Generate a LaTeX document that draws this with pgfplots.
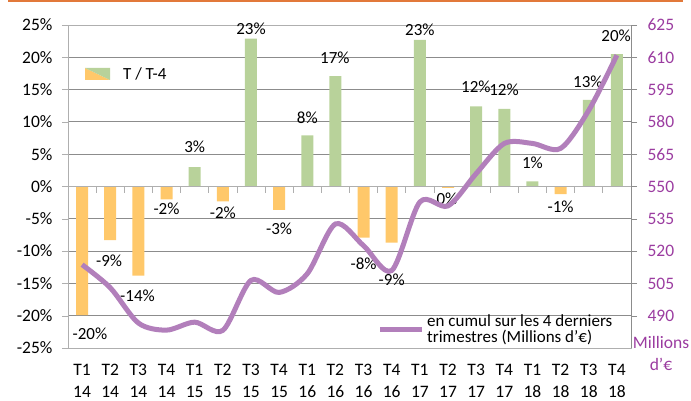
\documentclass[border=0pt]{standalone}
\usepackage{fontspec}
\setmainfont{Carlito}
\usepackage{pgfplots}
\usepackage{pgfplotstable}
\pgfplotsset{compat=1.18}
\definecolor{barG}{RGB}{184,210,154}
\definecolor{barO}{RGB}{255,200,106}
\definecolor{lineP}{RGB}{178,127,187}
\definecolor{txtP}{RGB}{155,60,160}
\definecolor{gridC}{RGB}{140,140,140}
\definecolor{axC}{RGB}{175,175,175}
\definecolor{topO}{RGB}{226,121,58}

\pgfplotstableread{
x y
4 3.0
6 22.9
8 7.9
9 17.1
12 22.7
14 12.4
15 12.0
16 0.8
18 13.4
19 20.5
}\tabpos
\pgfplotstableread{
x y
0 -19.9
1 -8.3
2 -13.8
3 -2.0
5 -2.3
7 -3.6
10 -7.9
11 -8.7
13 -0.2
17 -1.2
}\tabneg
\pgfplotstableread{
x y lab
0.28 -22.8 -20
0.96 -11.5 -9
1.97 -16.9 -14
3 -3.4 -2
4 6.1 3
5 -4.0 -2
6 24.4 23
7 -6.5 -3
8 10.7 8
8.98 19.9 17
10 -11.9 -8
11 -14.4 -9
12 24.2 23
12.96 -1.9 0
13.99 15.4 12
14.99 14.9 12
16 3.7 1
17 -3.2 -1
17.97 16.2 13
18.97 23.4 20
}\tablabs
\pgfplotstableread{
x y
0 513.7
1 503
2 486.6
3 483.3
4 487
5 483.2
6 506.4
7 500.8
8 509.5
9 532.6
10 522.5
11 511
12 542.8
13 541
14 556
15 570
16 570
17 567.7
18 585.4
19 611
}\tabcumul

\pgfplotsset{every tick label/.append style={font=\fontsize{17.5}{21}\selectfont}}

\begin{document}
\begin{tikzpicture}
\useasboundingbox (0,0) rectangle (691pt,401pt);
\draw[topO, line width=1.5pt] (8pt,400pt) -- (683pt,400pt);
\begin{axis}[
  at={(68pt,53pt)}, anchor=south west,
  width=563pt, height=323pt, scale only axis,
  xmin=-0.5, xmax=19.5, ymin=-25, ymax=25,
  ytick={-25,-20,-15,-10,-5,0,5,10,15,20,25},
  yticklabels={-25\%,-20\%,-15\%,-10\%,-5\%,0\%,5\%,10\%,15\%,20\%,25\%},
  ytick pos=left,
  xtick={0,...,19},
  xticklabels={T1\\14,T2\\14,T3\\14,T4\\14,T1\\15,T2\\15,T3\\15,T4\\15,T1\\16,T2\\16,T3\\16,T4\\16,T1\\17,T2\\17,T3\\17,T4\\17,T1\\18,T2\\18,T3\\18,T4\\18},
  xticklabel style={align=center, font=\fontsize{17.5}{22}\selectfont, yshift=-8pt, inner sep=2pt},
  yticklabel style={xshift=-6pt},
  xtick style={draw=none},
  ytick style={axC},
  tick align=outside, major tick length=6pt,
  ymajorgrids, grid style={gridC, line width=0.8pt},
  axis line style={axC, line width=0.8pt},
]
\addplot[ybar, bar width=12pt, bar shift=0pt, fill=barG, draw=none] table[x=x,y=y] {\tabpos};
\addplot[ybar, bar width=12pt, bar shift=0pt, fill=barO, draw=none] table[x=x,y=y] {\tabneg};
\draw[axC, line width=0.8pt] (axis cs:-0.5,0) -- (axis cs:19.5,0);
\foreach \t in {-0.5,0.5,1.5,2.5,3.5,4.5,5.5,6.5,7.5,8.5,9.5,10.5,11.5,12.5,13.5,14.5,15.5,16.5,17.5,18.5,19.5}{
  \edef\temp{\noexpand\draw[axC, line width=0.8pt] (axis cs:\t,0) -- (axis cs:\t,-0.93);}
  \temp
}
\addplot[only marks, mark=none, point meta=explicit symbolic,
  nodes near coords={\pgfplotspointmeta\%},
  nodes near coords style={anchor=center, font=\fontsize{17}{20}\selectfont, text=black}]
  table[x=x,y=y,meta=lab] {\tablabs};
\end{axis}
\begin{axis}[
  at={(68pt,53pt)}, anchor=south west,
  width=563pt, height=323pt, scale only axis,
  xmin=-0.5, xmax=19.5, ymin=475, ymax=625,
  axis x line=none, axis y line*=right,
  ytick={490,505,520,535,550,565,580,595,610,625},
  yticklabels={490,505,520,535,550,565,580,595,610,625},
  yticklabel style={text=txtP, xshift=7pt},
  ytick style={gridC},
  tick align=outside, major tick length=6pt,
  axis line style={gridC, line width=0.8pt},
]
\addplot[lineP, line width=5pt, smooth, mark=none] table[x=x,y=y] {\tabcumul};
\end{axis}
% legends
\fill[barO] (85pt,333pt) -- (85pt,321pt) -- (110pt,321pt) -- cycle;
\fill[barG] (85pt,333pt) -- (110pt,333pt) -- (110pt,321pt) -- cycle;
\node[anchor=west, inner sep=0pt, font=\fontsize{17}{20}\selectfont] at (123pt,327pt) {T / T-4};
\draw[lineP, line width=5pt] (380pt,71pt) -- (422pt,71pt);
\node[anchor=west, inner sep=0pt, align=left, font=\fontsize{17}{16}\selectfont] at (427pt,71pt) {en cumul sur les 4 derniers\\trimestres (Millions d'€)};
\node[align=center, inner sep=0pt, text=txtP, font=\fontsize{17.5}{22}\selectfont] at (661pt,48pt) {Millions\\d’€};
\end{tikzpicture}
\end{document}
